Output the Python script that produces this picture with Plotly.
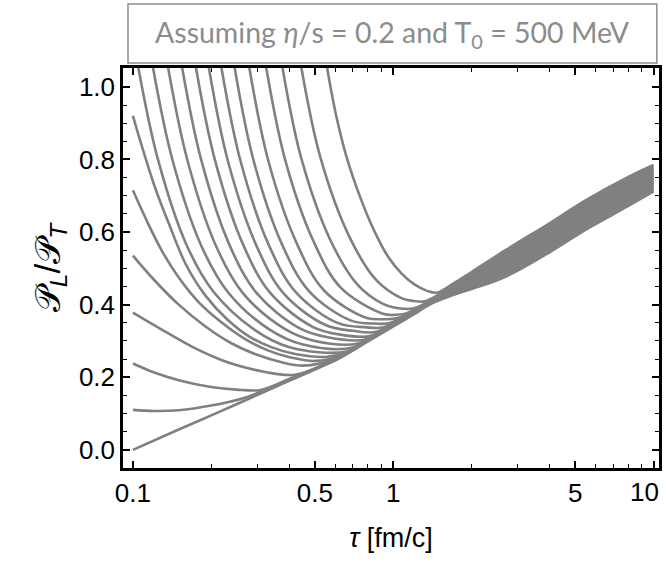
import plotly.graph_objects as go

# ---- data: P_L/P_T vs tau for 20 initial conditions ----
k01_tau = [0.1, 0.15, 0.2, 0.3, 0.4, 0.5, 0.616, 0.8, 1.0, 1.2, 1.4, 1.7, 2.0, 2.7, 4.0, 5.5, 8.0, 10.0]
k01_p = [0.0, 0.056, 0.095, 0.151, 0.191, 0.222, 0.251, 0.299, 0.340, 0.373, 0.403, 0.427, 0.443, 0.477, 0.545, 0.607, 0.672, 0.712]

k02_tau = [0.1, 0.12, 0.15, 0.2, 0.267, 0.35, 0.45, 0.6, 0.8, 1.0, 1.4, 2.0, 2.7, 4.0, 5.5, 8.0, 10.0]
k02_p = [0.11, 0.107, 0.109, 0.122, 0.143, 0.176, 0.207, 0.248, 0.300, 0.341, 0.4035, 0.445, 0.480, 0.548, 0.610, 0.675, 0.715]

k03_tau = [0.1, 0.12, 0.15, 0.2, 0.25, 0.31, 0.4, 0.5, 0.65, 0.8, 1.0, 1.4, 2.0, 2.7, 4.0, 5.5, 8.0, 10.0]
k03_p = [0.238, 0.214, 0.192, 0.173, 0.166, 0.165, 0.196, 0.224, 0.263, 0.301, 0.342, 0.404, 0.449, 0.486, 0.555, 0.617, 0.682, 0.721]

k04_tau = [0.1, 0.13, 0.17, 0.22, 0.28, 0.35, 0.42, 0.55, 0.8, 1.0, 1.4, 2.0, 2.7, 4.0, 5.5, 8.0, 10.0]
k04_p = [0.378, 0.33, 0.283, 0.247, 0.224, 0.21, 0.207, 0.237, 0.302, 0.343, 0.4045, 0.451, 0.489, 0.559, 0.621, 0.686, 0.724]

k05_tau = [0.1, 0.12, 0.15, 0.19, 0.24, 0.3, 0.37, 0.45, 0.6, 0.8, 1.0, 1.4, 2.0, 2.7, 4.0, 5.5, 8.0, 10.0]
k05_p = [0.535, 0.47, 0.40, 0.34, 0.293, 0.262, 0.242, 0.232, 0.251, 0.303, 0.344, 0.405, 0.453, 0.493, 0.563, 0.625, 0.690, 0.728]

k06_tau = [0.1, 0.115, 0.13, 0.15, 0.18, 0.22, 0.27, 0.33, 0.4, 0.5, 0.62, 0.8, 1.0, 1.4, 2.0, 2.7, 4.0, 5.5, 8.0, 10.0]
k06_p = [0.715, 0.62, 0.545, 0.475, 0.405, 0.35, 0.305, 0.274, 0.255, 0.245, 0.257, 0.304, 0.345, 0.4055, 0.456, 0.497, 0.567, 0.629, 0.694, 0.732]

k07_tau = [0.1, 0.11, 0.122, 0.138, 0.16, 0.19, 0.23, 0.28, 0.34, 0.42, 0.55, 0.65, 0.8, 1.0, 1.4, 2.0, 2.7, 4.0, 5.5, 8.0, 10.0]
k07_p = [0.92, 0.82, 0.72, 0.62, 0.51, 0.425, 0.36, 0.312, 0.283, 0.264, 0.256, 0.267, 0.305, 0.346, 0.406, 0.458, 0.500, 0.571, 0.633, 0.698, 0.735]

k08_tau = [0.1045, 0.1243, 0.160, 0.2033, 0.2945, 0.40, 0.66, 0.8, 1.0, 1.4, 2.0, 2.7, 4.0, 5.5, 8.0, 10.0]
k08_p = [1.06, 0.805, 0.568, 0.437, 0.330, 0.283, 0.271, 0.306, 0.347, 0.4065, 0.460, 0.504, 0.575, 0.637, 0.702, 0.739]

k09_tau = [0.119, 0.1415, 0.1822, 0.2315, 0.3353, 0.45, 0.70, 1.0, 1.4, 2.0, 2.7, 4.0, 5.5, 8.0, 10.0]
k09_p = [1.06, 0.802, 0.566, 0.435, 0.331, 0.290, 0.282, 0.348, 0.407, 0.463, 0.508, 0.579, 0.641, 0.706, 0.743]

k10_tau = [0.136, 0.1617, 0.2082, 0.2645, 0.3832, 0.5, 0.74, 1.0, 1.4, 2.0, 2.7, 4.0, 5.5, 8.0, 10.0]
k10_p = [1.06, 0.800, 0.563, 0.432, 0.333, 0.300, 0.294, 0.349, 0.4075, 0.465, 0.511, 0.583, 0.645, 0.710, 0.746]

k11_tau = [0.154, 0.1831, 0.2358, 0.2995, 0.434, 0.56, 0.78, 1.0, 1.4, 2.0, 2.7, 4.0, 5.5, 8.0, 10.0]
k11_p = [1.06, 0.798, 0.562, 0.431, 0.336, 0.310, 0.304, 0.350, 0.408, 0.467, 0.515, 0.587, 0.649, 0.714, 0.750]

k12_tau = [0.174, 0.2069, 0.2664, 0.3384, 0.4903, 0.62, 0.82, 1.0, 1.4, 2.0, 2.7, 4.0, 5.5, 8.0, 10.0]
k12_p = [1.06, 0.797, 0.562, 0.431, 0.339, 0.318, 0.314, 0.351, 0.4085, 0.470, 0.519, 0.591, 0.653, 0.718, 0.754]

k13_tau = [0.195, 0.2319, 0.2985, 0.3793, 0.5495, 0.70, 0.87, 1.4, 2.0, 2.7, 4.0, 5.5, 8.0, 10.0]
k13_p = [1.06, 0.795, 0.562, 0.431, 0.344, 0.328, 0.326, 0.409, 0.472, 0.522, 0.595, 0.657, 0.722, 0.757]

k14_tau = [0.218, 0.2592, 0.3338, 0.424, 0.6143, 0.78, 0.92, 1.4, 2.0, 2.7, 4.0, 5.5, 8.0, 10.0]
k14_p = [1.06, 0.795, 0.562, 0.433, 0.349, 0.338, 0.338, 0.4095, 0.474, 0.526, 0.599, 0.661, 0.726, 0.761]

k15_tau = [0.245, 0.2913, 0.3751, 0.4765, 0.6904, 0.85, 0.98, 1.4, 2.0, 2.7, 4.0, 5.5, 8.0, 10.0]
k15_p = [1.06, 0.795, 0.564, 0.436, 0.356, 0.348, 0.350, 0.410, 0.477, 0.530, 0.603, 0.665, 0.730, 0.765]

k16_tau = [0.279, 0.3317, 0.4271, 0.5427, 0.7862, 0.92, 1.05, 1.4, 2.0, 2.7, 4.0, 5.5, 8.0, 10.0]
k16_p = [1.06, 0.795, 0.567, 0.439, 0.364, 0.360, 0.364, 0.4105, 0.479, 0.533, 0.607, 0.669, 0.734, 0.768]

k17_tau = [0.324, 0.3852, 0.496, 0.630, 0.913, 1.02, 1.12, 1.4, 2.0, 2.7, 4.0, 5.5, 8.0, 10.0]
k17_p = [1.06, 0.797, 0.572, 0.446, 0.375, 0.372, 0.376, 0.411, 0.482, 0.537, 0.611, 0.673, 0.738, 0.772]

k18_tau = [0.374, 0.4447, 0.5726, 0.7274, 0.9096, 1.05, 1.2, 1.5, 2.0, 2.7, 4.0, 5.5, 8.0, 10.0]
k18_p = [1.06, 0.800, 0.579, 0.456, 0.403, 0.390, 0.390, 0.425, 0.484, 0.541, 0.615, 0.677, 0.742, 0.775]

k19_tau = [0.442, 0.5255, 0.6767, 0.8597, 1.075, 1.2, 1.32, 1.5, 2.0, 2.7, 4.0, 5.5, 8.0, 10.0]
k19_p = [1.06, 0.805, 0.589, 0.468, 0.418, 0.410, 0.409, 0.428, 0.487, 0.545, 0.619, 0.682, 0.746, 0.780]

k20_tau = [0.555, 0.6, 0.66, 0.754, 0.85, 0.96, 1.08, 1.21, 1.35, 1.47, 1.7, 2.0, 2.7, 4.0, 5.5, 8.0, 10.0]
k20_p = [1.06, 0.93, 0.81, 0.688, 0.6, 0.53, 0.485, 0.455, 0.438, 0.433, 0.458, 0.490, 0.550, 0.625, 0.688, 0.752, 0.785]

curves = [
    (k01_tau, k01_p), (k02_tau, k02_p), (k03_tau, k03_p), (k04_tau, k04_p),
    (k05_tau, k05_p), (k06_tau, k06_p), (k07_tau, k07_p), (k08_tau, k08_p),
    (k09_tau, k09_p), (k10_tau, k10_p), (k11_tau, k11_p), (k12_tau, k12_p),
    (k13_tau, k13_p), (k14_tau, k14_p), (k15_tau, k15_p), (k16_tau, k16_p),
    (k17_tau, k17_p), (k18_tau, k18_p), (k19_tau, k19_p), (k20_tau, k20_p),
]

x_tickvals = [0.1, 0.5, 1, 5, 10]
x_ticktext = ["0.1", "0.5", "1", "5", ""]
x_last_label = "10"
x_minor = [0.2, 0.3, 0.4, 0.6, 0.7, 0.8, 0.9, 2, 3, 4, 6, 7, 8, 9]
y_tickvals = [0.0, 0.2, 0.4, 0.6, 0.8, 1.0]
y_ticktext = ["0.0", "0.2", "0.4", "0.6", "0.8", "1.0"]

title_text = "Assuming <i>η</i>/s = 0.2 and T<sub>0</sub> = 500 MeV"

LINE = "#808080"
TICKSIZE = 26
fig = go.Figure()
for tx, py in curves:
    fig.add_trace(go.Scatter(x=tx, y=py, mode="lines",
                             line=dict(color=LINE, width=2.6, shape="spline", smoothing=1.0),
                             showlegend=False, hoverinfo="skip"))

axis_font = dict(family="Liberation Sans, Arial, sans-serif", size=TICKSIZE, color="black")
fig.update_layout(
    width=666, height=564,
    margin=dict(l=123, r=4, t=68, b=96),
    paper_bgcolor="white", plot_bgcolor="white",
    font=axis_font,
    xaxis=dict(type="log", range=[-1.038, 1.021],
               tickvals=x_tickvals, ticktext=x_ticktext,
               ticks="inside", ticklen=7, tickwidth=1.5, tickcolor="black",
               minor=dict(tickvals=x_minor, ticks="inside", ticklen=4, tickwidth=1.2, tickcolor="black"),
               showline=True, linecolor="black", linewidth=2.5, mirror="allticks",
               showgrid=False, zeroline=False,
               tickfont=dict(size=TICKSIZE),
               title=dict(text="<i>τ</i> [fm/c]", font=dict(size=27), standoff=22)),
    yaxis=dict(range=[-0.05, 1.052],
               tickvals=y_tickvals, ticktext=y_ticktext,
               ticks="inside", ticklen=7, tickwidth=1.5, tickcolor="black",
               minor=dict(dtick=0.05, ticks="inside", ticklen=4, tickwidth=1.2, tickcolor="black"),
               showline=True, linecolor="black", linewidth=2.5, mirror="allticks",
               showgrid=False, zeroline=False,
               tickfont=dict(size=TICKSIZE),
               title=dict(text="𝒫<sub><i>L</i></sub>/𝒫<sub><i>T</i></sub>", font=dict(size=35), standoff=8)),
)

# last x tick label, nudged left so it stays inside the page like in the reference
fig.add_annotation(text=x_last_label, xref="x", yref="paper", x=1.0, y=0,
                   xshift=-9, yshift=-7, xanchor="center", yanchor="top", showarrow=False,
                   font=dict(family="Liberation Sans, Arial, sans-serif", size=TICKSIZE, color="black"))

fig.add_shape(type="rect", xref="paper", yref="paper",
              x0=0.0093, x1=0.996, y0=1.0125, y1=1.16,
              line=dict(color="#8c8c8c", width=1.5), fillcolor="white")
fig.add_annotation(text=title_text, xref="paper", yref="paper", x=0.5028, y=1.085,
                   showarrow=False, xanchor="center", yanchor="middle",
                   font=dict(family="Lato, Open Sans, sans-serif", size=28.5, color="#8c8c8c"))

fig.write_html("out.html")
